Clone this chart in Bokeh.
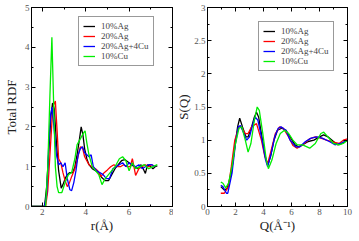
from bokeh.plotting import figure
from bokeh.layouts import row
from bokeh.models import (LinearAxis, Range1d, FixedTicker, Legend, LegendItem,
                          CustomJSTickFormatter)
from bokeh.embed import file_html
from bokeh.resources import INLINE

series_names = ["10%Ag", "20%Ag", "20%Ag+4Cu", "10%Cu"]
series_colors = ["#000000", "#ff0000", "#0000ff", "#00ee00"]

# ---- Total RDF data ----
r_10Ag = [1.5, 2.1, 2.2, 2.3, 2.4, 2.47, 2.55, 2.65, 2.75, 2.87, 2.95, 3.05, 3.15, 3.25, 3.4, 3.5,
          3.6, 3.7, 3.79, 3.87, 3.95, 4.05, 4.15, 4.3, 4.45, 4.6, 4.75, 4.9, 5.05, 5.2, 5.35, 5.5,
          5.65, 5.8, 5.95, 6.1, 6.25, 6.4, 6.55, 6.65, 6.75, 6.85, 7.0, 7.1, 7.2, 7.3]
g_10Ag = [0, 0, 0.5, 1.4, 2.3, 2.6, 2.45, 1.6, 0.9, 0.46, 0.55, 0.7, 0.8, 0.85, 0.85, 1.0,
          1.3, 1.65, 2.0, 1.8, 1.45, 1.2, 1.05, 0.95, 0.9, 0.85, 0.72, 0.65, 0.65, 0.8, 0.95, 1.05,
          1.15, 1.18, 1.12, 1.05, 1.0, 0.95, 1.05, 0.95, 0.83, 1.05, 1.0, 0.95, 1.0, 1.02]

r_20Ag = [1.5, 2.15, 2.25, 2.35, 2.45, 2.52, 2.6, 2.68, 2.75, 2.85, 2.95, 3.05, 3.15, 3.25, 3.35,
          3.5, 3.62, 3.75, 3.85, 3.95, 4.05, 4.15, 4.3, 4.45, 4.55, 4.7, 4.85, 5.0, 5.15, 5.3,
          5.45, 5.6, 5.75, 5.9, 6.05, 6.15, 6.3, 6.45, 6.6, 6.75, 6.9, 7.05, 7.2]
g_20Ag = [0, 0, 0.4, 1.3, 2.2, 2.55, 2.65, 1.9, 1.2, 1.1, 0.85, 0.65, 0.5, 0.6, 0.75,
          0.95, 1.2, 1.5, 1.48, 1.25, 1.15, 1.05, 1.0, 0.95, 0.9, 0.75, 0.85, 0.92, 1.0, 1.05,
          1.0, 1.0, 1.05, 1.0, 1.0, 1.2, 0.78, 0.95, 1.0, 1.05, 1.0, 1.05, 1.0]

r_20Ag4Cu = [1.5, 2.1, 2.2, 2.3, 2.38, 2.45, 2.55, 2.65, 2.75, 2.85, 2.95, 3.05, 3.15, 3.27, 3.35,
             3.45, 3.55, 3.65, 3.75, 3.85, 3.95, 4.05, 4.15, 4.25, 4.35, 4.5, 4.65, 4.8, 4.95,
             5.1, 5.25, 5.4, 5.55, 5.7, 5.85, 6.0, 6.15, 6.3, 6.45, 6.6, 6.75, 6.9, 7.05, 7.2]
g_20Ag4Cu = [0, 0, 0.3, 1.6, 2.3, 2.5, 1.9, 1.3, 1.05, 1.1, 1.0, 1.1, 0.7, 0.42, 0.4,
             0.6, 0.9, 1.3, 1.45, 1.5, 1.35, 1.3, 1.25, 1.3, 1.0, 0.9, 0.85, 0.8, 0.7,
             0.7, 0.95, 1.0, 1.05, 1.1, 1.0, 1.1, 1.05, 1.0, 1.05, 0.95, 1.0, 1.05, 1.05, 1.0]

r_10Cu = [1.5, 2.15, 2.25, 2.35, 2.44, 2.52, 2.6, 2.68, 2.75, 2.9, 3.05, 3.2, 3.35, 3.5, 3.6,
          3.7, 3.8, 3.9, 3.97, 4.05, 4.15, 4.3, 4.45, 4.6, 4.75, 4.9, 5.05, 5.2, 5.35, 5.55,
          5.7, 5.85, 6.0, 6.15, 6.3, 6.5, 6.7, 6.9, 7.1, 7.3]
g_10Cu = [0, 0, 1.0, 2.8, 4.25, 2.6, 1.0, 0.5, 0.35, 0.35, 0.6, 0.8, 0.85, 1.2, 1.55,
          1.65, 1.75, 1.85, 1.9, 1.6, 1.3, 1.0, 0.9, 0.8, 0.55, 0.7, 0.8, 0.9, 1.0, 1.2,
          1.25, 1.15, 0.9, 1.1, 0.95, 1.0, 1.05, 0.95, 1.0, 1.05]

# ---- S(Q) data ----
q_10Ag = [0.95, 1.2, 1.4, 1.7, 1.95, 2.15, 2.3, 2.5, 2.75, 2.9, 3.15, 3.35, 3.5, 3.65, 3.85, 4.1,
          4.3, 4.5, 4.75, 5.0, 5.3, 5.6, 5.9, 6.25, 6.5, 6.8, 7.2, 7.6, 8.0, 8.3, 8.6, 9.0, 9.3,
          9.6, 10.0]
s_10Ag = [0.3, 0.25, 0.27, 0.5, 0.9, 1.2, 1.33, 1.2, 1.05, 1.05, 1.2, 1.35, 1.42, 1.35, 1.1, 0.78,
          0.62, 0.75, 1.0, 1.15, 1.18, 1.15, 1.05, 0.93, 0.9, 0.93, 0.98, 1.0, 1.05, 1.08, 1.05,
          0.98, 0.93, 0.95, 1.0]

q_20Ag = [0.95, 1.2, 1.5, 1.7, 1.95, 2.25, 2.4, 2.7, 2.9, 3.15, 3.5, 3.85, 4.1, 4.3, 4.55, 4.85,
          5.15, 5.4, 5.8, 6.1, 6.4, 6.8, 7.3, 7.7, 8.1, 8.5, 9.0, 9.4, 9.7, 10.0]
s_20Ag = [0.2, 0.2, 0.3, 0.6, 1.0, 1.2, 1.2, 1.1, 1.1, 1.2, 1.25, 1.0, 0.75, 0.65, 0.85, 1.1,
          1.2, 1.18, 1.05, 0.92, 0.88, 0.93, 1.02, 1.05, 1.03, 1.0, 0.97, 0.95, 1.0, 1.02]

q_20Ag4Cu = [0.95, 1.1, 1.35, 1.45, 1.75, 2.0, 2.2, 2.35, 2.6, 2.8, 3.0, 3.25, 3.4, 3.6, 3.9, 4.15,
             4.3, 4.55, 4.8, 5.05, 5.25, 5.6, 5.9, 6.3, 6.6, 7.0, 7.4, 7.8, 8.2, 8.7, 9.1, 9.5, 10.0]
s_20Ag4Cu = [0.32, 0.3, 0.2, 0.2, 0.5, 0.95, 1.2, 1.22, 1.1, 1.0, 1.05, 1.25, 1.35, 1.3, 1.0, 0.7,
             0.6, 0.8, 1.05, 1.18, 1.2, 1.15, 1.0, 0.9, 0.9, 0.98, 1.03, 1.05, 1.03, 0.98, 0.93,
             0.95, 1.0]

q_10Cu = [0.95, 1.1, 1.3, 1.5, 1.75, 2.0, 2.25, 2.45, 2.7, 2.9, 3.1, 3.35, 3.55, 3.7, 3.95, 4.2,
          4.35, 4.6, 4.9, 5.2, 5.5, 5.8, 6.1, 6.4, 6.8, 7.3, 7.7, 8.1, 8.3, 8.6, 9.0, 9.4, 9.7, 10.0]
s_10Cu = [0.37, 0.35, 0.28, 0.35, 0.6, 0.95, 1.18, 1.2, 1.0, 0.82, 0.95, 1.3, 1.5, 1.45, 1.1, 0.7,
          0.57, 0.7, 0.95, 1.1, 1.15, 1.1, 1.0, 0.93, 0.93, 0.88, 0.95, 1.1, 1.12, 1.05, 0.95,
          0.93, 0.95, 1.0]

rdf_x_ticks = [2, 4, 6, 8]
rdf_x_minor = [3, 5, 7]
rdf_y_ticks = [0, 1, 2, 3, 4, 5]
rdf_y_minor = [0.5, 1.5, 2.5, 3.5, 4.5]
sq_x_ticks = [0, 2, 4, 6, 8, 10]
sq_x_minor = [1, 3, 5, 7, 9]
sq_y_ticks = [0, 0.5, 1, 1.5, 2, 2.5, 3]
sq_y_minor = [0.25, 0.75, 1.25, 1.75, 2.25, 2.75]

SERIF = "Liberation Serif"
HEIGHT = 241


def style_axis(ax, show_labels=True):
    ax.major_tick_in = 4
    ax.major_tick_out = 0
    ax.minor_tick_in = 2
    ax.minor_tick_out = 0
    ax.axis_line_color = "black"
    ax.major_tick_line_color = "black"
    ax.minor_tick_line_color = "black"
    ax.major_label_standoff = 2
    if show_labels:
        ax.major_label_text_font = SERIF
        ax.major_label_text_font_size = "9px"
        ax.major_label_text_color = "#555555"
        ax.axis_label_text_font = SERIF
        ax.axis_label_text_font_size = "13px"
        ax.axis_label_text_font_style = "normal"
        ax.axis_label_text_color = "#222222"
        ax.axis_label_standoff = 0
    else:
        ax.major_label_text_font_size = "0px"
        ax.formatter = CustomJSTickFormatter(code="return ''")
        ax.major_label_standoff = 0


def make_panel(width, mb_left, mb_right, mb_bottom, xr, yr, xt, xm, yt, ym, xlabel, ylabel,
               xs, ys, legend_loc, ylab_standoff):
    p = figure(width=width, height=HEIGHT, output_backend="svg", toolbar_location=None,
               x_range=Range1d(*xr), y_range=Range1d(*yr),
               min_border_left=mb_left, min_border_right=mb_right,
               min_border_top=7, min_border_bottom=mb_bottom)
    p.background_fill_color = "white"
    p.border_fill_color = "white"
    p.outline_line_color = "black"
    p.xgrid.visible = False
    p.ygrid.visible = False
    p.xaxis.ticker = FixedTicker(ticks=xt, minor_ticks=xm)
    p.yaxis.ticker = FixedTicker(ticks=yt, minor_ticks=ym)
    p.xaxis.axis_label = xlabel
    p.yaxis.axis_label = ylabel
    for ax in p.xaxis + p.yaxis:
        style_axis(ax)
    p.yaxis.axis_label_standoff = ylab_standoff
    top = LinearAxis(ticker=FixedTicker(ticks=xt, minor_ticks=xm))
    style_axis(top, show_labels=False)
    p.add_layout(top, "above")
    right = LinearAxis(ticker=FixedTicker(ticks=yt, minor_ticks=ym))
    style_axis(right, show_labels=False)
    p.add_layout(right, "right")

    items = []
    for name, color, x, y in zip(series_names, series_colors, xs, ys):
        rr = p.line(x, y, line_color=color, line_width=1.3)
        items.append(LegendItem(label=name, renderers=[rr]))
    leg = Legend(items=items, location=legend_loc)
    leg.label_text_font = SERIF
    leg.label_text_font_size = "9px"
    leg.label_height = 10
    leg.glyph_height = 10
    leg.glyph_width = 12
    leg.label_standoff = 6
    leg.spacing = 0
    leg.padding = 4
    leg.margin = 0
    leg.border_line_color = "#333333"
    leg.border_line_width = 1
    leg.background_fill_alpha = 1
    p.add_layout(leg, "center")
    return p


# left panel: canvas x 0..173, frame 27..172 ; frame y 7..207
p1 = make_panel(173, 27, 1, 34, (1.5, 8), (0, 5), rdf_x_ticks, rdf_x_minor, rdf_y_ticks,
                rdf_y_minor, "r(Å)", "Total RDF",
                [r_10Ag, r_20Ag, r_20Ag4Cu, r_10Cu], [g_10Ag, g_20Ag, g_20Ag4Cu, g_10Cu],
                (47, 140), 3)
# right panel: canvas x 173..359, frame 201..347
p2 = make_panel(186, 28, 12, 35, (0, 10), (0, 3), sq_x_ticks, sq_x_minor, sq_y_ticks,
                sq_y_minor, "Q(Å⁻¹)", "S(Q)",
                [q_10Ag, q_20Ag, q_20Ag4Cu, q_10Cu], [s_10Ag, s_20Ag, s_20Ag4Cu, s_10Cu],
                (51, 135), 0)

layout = row(p1, p2, spacing=0)
open("out.html", "w").write(file_html(layout, INLINE))
